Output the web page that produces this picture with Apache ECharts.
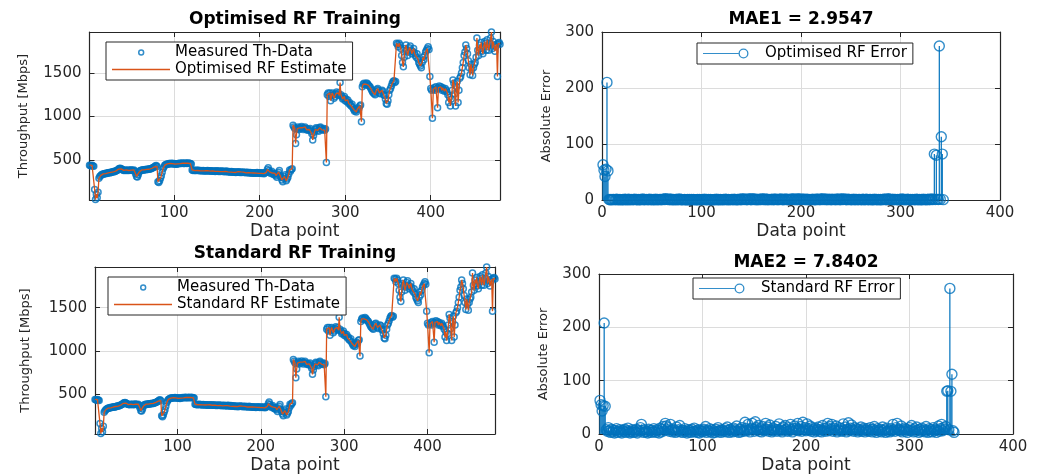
<!DOCTYPE html>
<html>
<head>
<meta charset="utf-8">
<script src="https://cdn.jsdelivr.net/npm/echarts@6/dist/echarts.min.js"></script>
<style>
  html, body { margin: 0; padding: 0; background: #fff; }
  #chart { width: 1041px; height: 475px; }
</style>
</head>
<body>
<div id="chart"></div>
<script>
// measured throughput (Mbps), one value per data point
const thMeasured = [
  440, 435, 430, 438, 432, 428, 160, 45, 105, 65,
  130, 290, 310, 320, 330, 335, 340, 338, 345, 342,
  350, 348, 352, 355, 350, 358, 360, 365, 362, 370,
  368, 375, 380, 385, 395, 402, 405, 398, 392, 385,
  380, 382, 378, 385, 380, 383, 379, 381, 386, 384,
  380, 378, 385, 370, 340, 310, 305, 330, 360, 375,
  380, 385, 382, 388, 385, 390, 387, 392, 390, 395,
  393, 398, 400, 405, 410, 415, 420, 430, 435, 425,
  250, 240, 260, 290, 320, 360, 400, 420, 440, 445,
  450, 455, 452, 458, 460, 455, 462, 458, 455, 460,
  452, 456, 450, 455, 460, 463, 458, 460, 465, 462,
  458, 460, 464, 461, 459, 462, 465, 460, 458, 455,
  385, 380, 382, 378, 380, 383, 379, 381, 378, 376,
  380, 377, 375, 378, 374, 376, 372, 375, 378, 373,
  375, 372, 376, 371, 374, 370, 373, 368, 372, 375,
  370, 368, 372, 366, 369, 372, 367, 370, 365, 368,
  372, 366, 362, 368, 364, 360, 366, 362, 358, 364,
  360, 356, 362, 358, 365, 360, 357, 362, 355, 358,
  360, 355, 358, 352, 356, 360, 354, 350, 356, 352,
  348, 354, 350, 346, 352, 348, 355, 350, 346, 352,
  350, 345, 352, 348, 342, 350, 355, 360, 390, 410,
  380, 360, 345, 370, 350, 335, 330, 345, 320, 300,
  340, 360, 380, 320, 300, 270, 250, 290, 310, 330,
  260, 280, 300, 340, 385, 370, 390, 400, 900, 880,
  860, 690, 790, 860, 880, 850, 870, 860, 885, 870,
  850, 865, 880, 860, 845, 855, 840, 850, 860, 830,
  800, 730, 780, 820, 850, 870, 860, 840, 830, 870,
  880, 860, 845, 850, 860, 840, 855, 470, 1250, 1270,
  1230, 1270, 1180, 1240, 1270, 1250, 1210, 1230, 1260, 1280,
  1250, 1270, 1240, 1390, 1250, 1230, 1200, 1210, 1230, 1180,
  1200, 1170, 1190, 1150, 1160, 1130, 1120, 1140, 1100, 1080,
  1060, 1070, 1050, 1080, 1100, 1090, 1120, 1130, 940, 1340,
  1370, 1380, 1360, 1370, 1385, 1375, 1360, 1350, 1340, 1320,
  1300, 1280, 1270, 1260, 1250, 1290, 1310, 1320, 1300, 1270,
  1260, 1280, 1300, 1290, 1250, 1240, 1200, 1150, 1140, 1180,
  1250, 1300, 1320, 1350, 1380, 1400, 1410, 1390, 1400, 1840,
  1830, 1800, 1840, 1820, 1780, 1700, 1620, 1570, 1680, 1780,
  1820, 1760, 1700, 1740, 1790, 1810, 1760, 1720, 1750, 1780,
  1730, 1700, 1680, 1720, 1660, 1620, 1600, 1580, 1560, 1620,
  1680, 1650, 1700, 1740, 1760, 1780, 1800, 1770, 1460, 1320,
  1300, 980, 1310, 1330, 1300, 1340, 1320, 1100, 1330, 1350,
  1320, 1340, 1300, 1330, 1310, 1290, 1320, 1300, 1280, 1250,
  1160, 1220, 1120, 1200, 1300, 1420, 1380, 1260, 1120, 1340,
  1400, 1160, 1300, 1440, 1460, 1500, 1560, 1620, 1700, 1740,
  1820, 1780, 1720, 1640, 1560, 1480, 1600, 1540, 1470, 1560,
  1600, 1620, 1680, 1900, 1760, 1700, 1820, 1780, 1850, 1750,
  1720, 1800, 1860, 1840, 1760, 1880, 1800, 1760, 1840, 1900,
  1970, 1780, 1860, 1820, 1750, 1800, 1830, 1460, 1840, 1850, 1830
]

// absolute error of the optimised RF model
const optimisedError = [
  63, 53, 42, 55, 210, 52, 1, 0.5, 1, 0.3,
  0.8, 1.2, 0.4, 0.9, 1.5, 0.6, 0.2, 1.1, 0.7, 0.3,
  1.0, 0.5, 1.3, 0.8, 0.2, 0.9, 1.6, 0.4, 0.7, 1.1,
  0.3, 0.9, 1.4, 0.6, 0.8, 0.2, 1.2, 0.5, 1.0, 0.7,
  1.8, 0.4, 0.9, 0.6, 1.1, 0.3, 0.8, 1.3, 0.5, 0.9,
  0.6, 1.0, 0.2, 1.4, 0.7, 0.9, 0.4, 1.2, 0.8, 0.3,
  1.1, 1.9, 0.6, 2.2, 1.5, 0.8, 1.3, 0.5, 2.0, 0.7,
  0.4, 1.0, 0.6, 0.3, 1.4, 0.5, 0.9, 1.7, 0.4, 0.8,
  0.3, 0.7, 1.1, 0.5, 0.2, 0.9, 0.4, 0.8, 0.3, 1.0,
  0.5, 1.2, 0.4, 0.7, 0.3, 0.9, 0.2, 0.8, 0.6, 0.4,
  1.0, 0.6, 1.5, 0.3, 0.8, 0.5, 1.1, 0.4, 0.9, 0.2,
  0.7, 0.3, 1.0, 0.5, 1.3, 0.4, 0.8, 0.3, 0.9, 0.6,
  0.5, 1.1, 0.4, 1.4, 0.8, 0.3, 1.0, 0.6, 0.4, 1.2,
  0.9, 0.5, 1.6, 0.6, 0.3, 1.0, 0.4, 1.3, 0.8, 0.5,
  2.4, 1.1, 0.6, 1.9, 0.9, 0.4, 1.2, 2.1, 1.0, 0.5,
  2.5, 1.3, 0.7, 1.7, 0.5, 1.1, 0.4, 1.5, 0.9, 0.6,
  2.1, 1.0, 1.4, 0.5, 1.8, 0.8, 0.4, 1.2, 0.6, 1.0,
  1.5, 0.5, 0.9, 2.0, 0.6, 1.1, 0.4, 1.4, 0.8, 1.7,
  1.0, 0.5, 1.3, 0.6, 1.9, 0.9, 0.4, 1.1, 1.6, 0.8,
  1.2, 2.1, 0.6, 1.0, 1.5, 0.5, 2.3, 0.9, 1.3, 0.6,
  2.0, 1.1, 0.8, 1.6, 0.5, 1.3, 0.9, 0.4, 1.2, 0.6,
  1.0, 1.4, 0.5, 0.9, 0.4, 1.7, 0.8, 1.1, 0.5, 1.3,
  2.1, 0.6, 1.5, 1.0, 1.9, 0.5, 1.2, 0.8, 1.6, 0.4,
  0.9, 1.3, 0.6, 1.1, 0.5, 2.0, 0.8, 1.4, 0.4, 1.0,
  2.2, 0.6, 1.2, 1.8, 0.9, 0.5, 1.3, 0.8, 1.1, 0.4,
  1.0, 0.6, 1.4, 0.5, 0.9, 1.2, 0.4, 0.8, 1.1, 0.6,
  0.5, 1.3, 0.9, 0.4, 1.0, 1.5, 0.6, 0.3, 1.1, 0.8,
  0.5, 1.0, 0.4, 1.4, 0.6, 0.9, 0.3, 1.2, 0.5, 0.8,
  0.4, 1.1, 0.6, 1.9, 0.9, 0.5, 1.3, 2.1, 0.8, 1.0,
  0.6, 1.6, 0.4, 0.9, 1.2, 0.5, 1.0, 0.3, 0.8, 1.3,
  0.6, 1.7, 0.9, 0.4, 1.1, 0.5, 1.4, 0.8, 0.3, 1.0,
  0.5, 1.2, 0.6, 0.9, 0.4, 1.5, 0.8, 0.3, 1.1, 0.5,
  0.9, 0.4, 1.3, 0.6, 1.0, 0.3, 0.8, 1.6, 0.5, 1.1,
  1.9, 0.6, 1.3, 82, 1.0, 80, 1.2, 0.8, 275, 1.1,
  113, 82, 0.6
]

// absolute error of the standard RF model
const standardError = [
  63, 55, 43, 53, 208, 52, 8, 5, 12, 6,
  3, 9, 4, 7, 2, 6, 10, 3, 5, 8,
  4, 2, 7, 5, 9, 3, 6, 11, 4, 2,
  5, 8, 3, 6, 4, 9, 2, 7, 5, 12,
  18, 6, 3, 8, 4, 5, 2, 9, 6, 3,
  7, 4, 10, 5, 3, 8, 6, 2, 11, 4,
  9, 14, 6, 20, 15, 8, 12, 5, 18, 7,
  4, 9, 6, 3, 13, 5, 8, 16, 4, 7,
  3, 6, 10, 5, 2, 8, 4, 7, 3, 9,
  5, 11, 4, 6, 3, 8, 2, 7, 5, 4,
  9, 6, 14, 3, 7, 5, 10, 4, 8, 2,
  6, 3, 9, 5, 12, 4, 7, 3, 8, 6,
  5, 10, 4, 13, 7, 3, 9, 6, 4, 11,
  8, 5, 15, 6, 3, 9, 4, 12, 7, 5,
  22, 10, 6, 18, 8, 4, 11, 20, 9, 5,
  23, 12, 7, 16, 5, 10, 4, 14, 8, 6,
  20, 9, 13, 5, 17, 7, 4, 11, 6, 9,
  14, 5, 8, 19, 6, 10, 4, 13, 7, 16,
  9, 5, 12, 6, 18, 8, 4, 10, 15, 7,
  11, 20, 6, 9, 14, 5, 22, 8, 12, 6,
  19, 10, 7, 15, 5, 12, 8, 4, 11, 6,
  9, 13, 5, 8, 4, 16, 7, 10, 5, 12,
  20, 6, 14, 9, 18, 5, 11, 7, 15, 4,
  8, 12, 6, 10, 5, 19, 7, 13, 4, 9,
  21, 6, 11, 17, 8, 5, 12, 7, 10, 4,
  9, 6, 13, 5, 8, 11, 4, 7, 10, 6,
  5, 12, 8, 4, 9, 14, 6, 3, 10, 7,
  5, 9, 4, 13, 6, 8, 3, 11, 5, 7,
  4, 10, 6, 18, 8, 5, 12, 20, 7, 9,
  6, 15, 4, 8, 11, 5, 9, 3, 7, 12,
  6, 16, 8, 4, 10, 5, 13, 7, 3, 9,
  5, 11, 6, 8, 4, 14, 7, 3, 10, 5,
  8, 4, 12, 6, 9, 3, 7, 15, 5, 10,
  18, 6, 12, 9, 14, 80, 81, 8, 273, 80,
  112, 6, 3
]

const trainTitles = ['Optimised RF Training', 'Standard RF Training']
const errorTitles = ['MAE1 = 2.9547', 'MAE2 = 7.8402']
const estimateNames = ['Optimised RF Estimate', 'Standard RF Estimate']
const errorNames = ['Optimised RF Error', 'Standard RF Error']

const BLUE = '#0072BD'
const ORANGE = '#D95319'
const AXIS = '#262626'
const FONT = 'DejaVu Sans'

// legend icons: small ring, plain line, stem (line + ring)
const ringIcon = 'path://M0 0L0.01 0M58 14L58.01 14M26 7A3.2 3.2 0 1 1 32.4 7A3.2 3.2 0 1 1 26 7ZM27.5 7A1.7 1.7 0 1 0 30.9 7A1.7 1.7 0 1 0 27.5 7Z'
const lineIcon = 'path://M0 6.3L58 6.3L58 7.7L0 7.7Z'
const stemIcon = 'path://M0 0L0.01 0M57 14L57.01 14M0 6.4L35.5 6.4L35.5 7.6L0 7.6ZM35.5 7A5 5 0 1 1 45.5 7A5 5 0 1 1 35.5 7ZM36.8 7A3.7 3.7 0 1 0 44.2 7A3.7 3.7 0 1 0 36.8 7Z'

const pairs = arr => arr.map((v, i) => [i + 1, v])

const grids = [
  { left: 89.5, top: 32, width: 410.5, height: 168 },
  { left: 602, top: 32, width: 398, height: 168 },
  { left: 95, top: 267, width: 400, height: 167 },
  { left: 599, top: 274, width: 414, height: 160 }
]

const tickStyle = { show: true, inside: true, length: 5, lineStyle: { color: AXIS } }
const lineStyle = { show: true, onZero: false, lineStyle: { color: AXIS, width: 1.2 } }
const gridLine = { show: true, lineStyle: { color: '#dcdcdc', width: 1 } }

function axisRange(gi) {
  if (gi % 2 === 0) {
    return {
      x: { min: 1, max: thMeasured.length, splitNumber: 5 },
      y: { min: 40, max: 1970, splitNumber: 4 }
    }
  }
  return {
    x: { min: 0, max: 400, interval: 100 },
    y: { min: 0, max: 300, interval: 100 }
  }
}

const yNameGap = [59, 49, 63, 49]
const xAxes = []
const yAxes = []
grids.forEach((g, gi) => {
  const r = axisRange(gi)
  const hideEnds = gi % 2 === 0
  xAxes.push(Object.assign({
    type: 'value', gridIndex: gi, position: 'bottom',
    axisLine: lineStyle, axisTick: tickStyle, splitLine: gridLine,
    axisLabel: {
      color: AXIS, fontSize: 15, fontFamily: FONT, margin: 6,
      showMinLabel: !hideEnds, showMaxLabel: !hideEnds,
      formatter: v => String(v)
    },
    name: 'Data point', nameLocation: 'middle', nameGap: 23,
    nameTextStyle: { color: AXIS, fontSize: 17, fontFamily: FONT }
  }, r.x))
  yAxes.push(Object.assign({
    type: 'value', gridIndex: gi, position: 'left',
    axisLine: lineStyle, axisTick: tickStyle, splitLine: gridLine,
    axisLabel: {
      color: AXIS, fontSize: 15, fontFamily: FONT, margin: 8,
      showMinLabel: !hideEnds, showMaxLabel: !hideEnds,
      formatter: v => String(v)
    },
    name: gi % 2 === 0 ? 'Throughput [Mbps]' : 'Absolute Error',
    nameLocation: 'middle', nameGap: yNameGap[gi],
    nameTextStyle: { color: AXIS, fontSize: 13, fontFamily: FONT }
  }, r.y))
})
// mirrored box axes (top / right) with inward ticks only
grids.forEach((g, gi) => {
  const r = axisRange(gi)
  xAxes.push(Object.assign({
    type: 'value', gridIndex: gi, position: 'top',
    axisLine: lineStyle, axisTick: tickStyle,
    axisLabel: { show: false }, splitLine: { show: false }
  }, r.x))
  yAxes.push(Object.assign({
    type: 'value', gridIndex: gi, position: 'right',
    axisLine: lineStyle, axisTick: tickStyle,
    axisLabel: { show: false }, splitLine: { show: false }
  }, r.y))
})

const series = []
const legends = []
const titles = []
const titlePos = [[295, 10], [801, 10], [295, 244], [806, 253]]
const legendPos = [[106, 42], [697, 43], [108, 277], [693, 278]]

;[0, 1].forEach(k => {
  const gTrain = k * 2
  const gErr = k * 2 + 1
  const err = k === 0 ? optimisedError : standardError

  series.push({
    name: 'Measured Th-Data', type: 'scatter',
    xAxisIndex: gTrain, yAxisIndex: gTrain,
    data: pairs(thMeasured),
    symbol: 'circle', symbolSize: 6, clip: false, z: 2,
    itemStyle: { color: 'transparent', borderColor: BLUE, borderWidth: 1.5 }
  })
  series.push({
    name: estimateNames[k], type: 'line',
    xAxisIndex: gTrain, yAxisIndex: gTrain,
    data: pairs(thMeasured),
    symbol: 'none', z: 3, color: ORANGE,
    lineStyle: { color: ORANGE, width: 1.3 }
  })
  series.push({
    name: 'stem' + k, type: 'bar',
    xAxisIndex: gErr, yAxisIndex: gErr,
    data: pairs(err), barWidth: 1.2,
    itemStyle: { color: BLUE }
  })
  series.push({
    name: errorNames[k], type: 'scatter',
    xAxisIndex: gErr, yAxisIndex: gErr,
    data: pairs(err),
    symbol: 'circle', symbolSize: 10, clip: false, z: 3,
    itemStyle: { color: 'transparent', borderColor: BLUE, borderWidth: 1.4 }
  })

  const legendBase = {
    orient: 'vertical', selectedMode: false,
    itemWidth: 58, itemHeight: 14, itemGap: 2,
    backgroundColor: '#fff', borderColor: AXIS, borderWidth: 1,
    textStyle: { color: '#000', fontSize: 15, fontFamily: FONT }
  }
  legends.push(Object.assign({}, legendBase, {
    left: legendPos[gTrain][0], top: legendPos[gTrain][1],
    padding: [3, 6, 3, 6],
    data: [
      { name: 'Measured Th-Data', icon: ringIcon, itemStyle: { color: BLUE, borderWidth: 0 } },
      { name: estimateNames[k], icon: lineIcon, itemStyle: { color: ORANGE, borderWidth: 0 } }
    ]
  }))
  legends.push(Object.assign({}, legendBase, {
    left: legendPos[gErr][0], top: legendPos[gErr][1],
    itemWidth: 57, padding: [3, 6, 3, 6],
    data: [
      { name: errorNames[k], icon: stemIcon, itemStyle: { color: BLUE, borderWidth: 0 } }
    ]
  }))

  titles.push({
    text: trainTitles[k], left: titlePos[gTrain][0], top: titlePos[gTrain][1],
    textAlign: 'center', padding: 0,
    textStyle: { color: '#000', fontSize: 17, fontWeight: 'bold', fontFamily: FONT, lineHeight: 19 }
  })
  titles.push({
    text: errorTitles[k], left: titlePos[gErr][0], top: titlePos[gErr][1],
    textAlign: 'center', padding: 0,
    textStyle: { color: '#000', fontSize: 17, fontWeight: 'bold', fontFamily: FONT, lineHeight: 19 }
  })
})

const myChart = echarts.init(document.getElementById('chart'), null, { renderer: 'canvas' })
const option = {
  animation: false,
  backgroundColor: '#fff',
  title: titles,
  legend: legends,
  grid: grids,
  xAxis: xAxes,
  yAxis: yAxes,
  series
}
myChart.setOption(option)
</script>
</body>
</html>
